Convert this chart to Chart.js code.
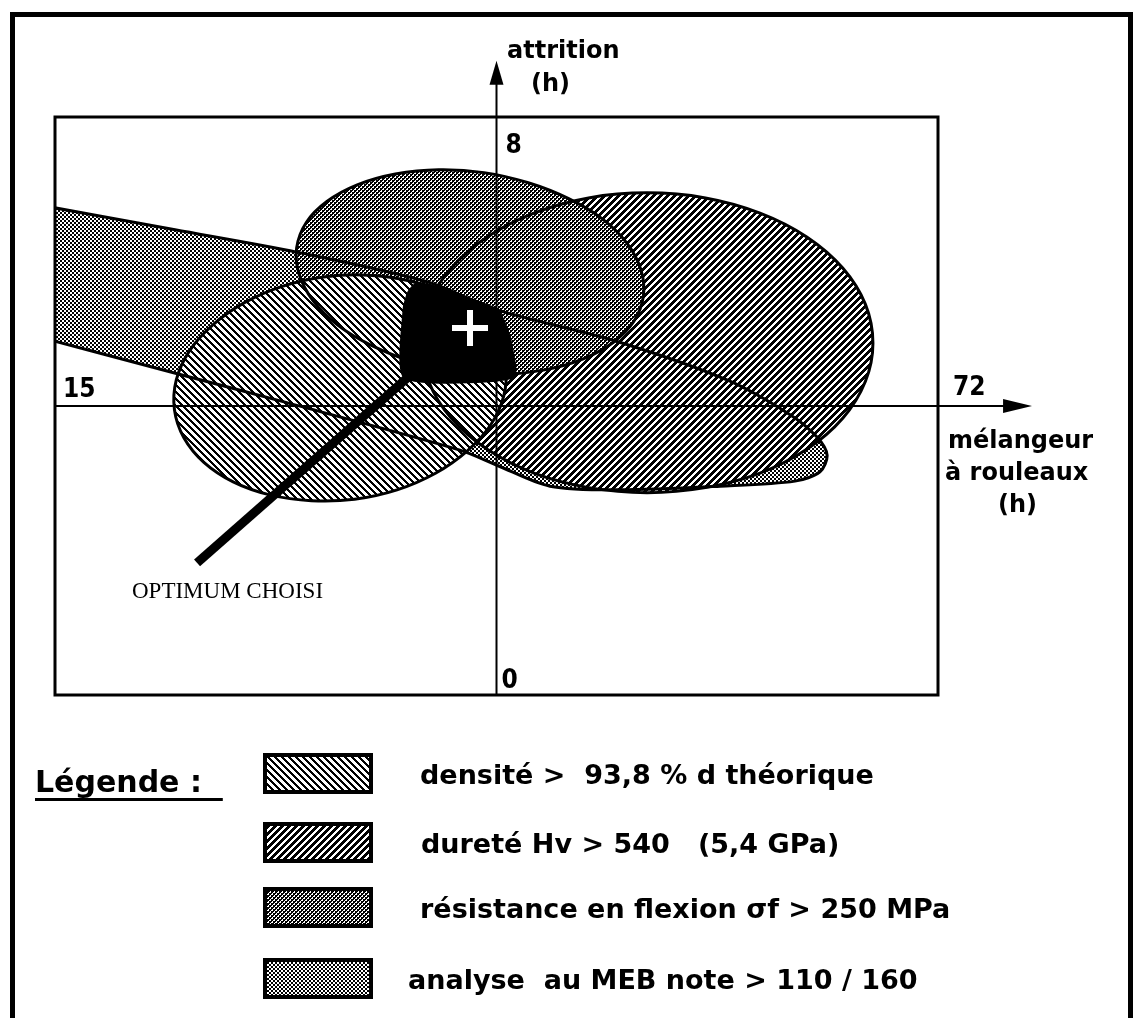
<!DOCTYPE html>
<html><head><meta charset="utf-8">
<script src="https://cdn.jsdelivr.net/npm/chart.js@4.4.0/dist/chart.umd.min.js"></script>
<style>
html,body{margin:0;padding:0;background:#fff;}
#wrap{position:relative;width:1137px;height:1018px;overflow:hidden;background:#fff;}
#c{position:absolute;left:0;top:0;}
#frame{position:absolute;left:10px;top:12px;width:1123px;height:1100px;border:5px solid #000;border-bottom:none;box-sizing:border-box;}
.t{position:absolute;font-family:"DejaVu Sans",sans-serif;font-weight:bold;color:#000;white-space:pre;}
.sw{position:absolute;}
</style></head><body>
<div id="wrap">
<div id="frame"></div>
<canvas id="c" width="1137" height="1018"></canvas>
</div>
<script>
// ---------- data (x: mélangeur à rouleaux, h ; y: attrition, h) ----------
const xRange = [15, 72];
const yRange = [0, 8];
const axisCross = [43.5, 4];
const axisEnds = [78.07, 8.78];
const xTickLabels = ['15', '72'];
const yTickLabels = ['0', '8'];
const xAxisTitle = ['mélangeur', 'à rouleaux', '(h)'];
const yAxisTitle = ['attrition', '(h)'];
const seriesNames = [
  'densité >  93,8 % d théorique',
  'dureté Hv > 540   (5,4 GPa)',
  'résistance en flexion σf > 250 MPa',
  'analyse  au MEB note > 110 / 160'
];
const legendTitle = 'Légende :  ';
const optimumLabel = 'OPTIMUM CHOISI';

// region outlines
const densiteX = [44.09, 43.97, 43.13, 41.62, 39.56, 37.08, 34.34, 31.55, 28.87, 26.50, 24.61, 23.32,
                  22.71, 22.83, 23.67, 25.17, 27.23, 29.72, 32.46, 35.25, 37.92, 40.29, 42.18, 43.47];
const densiteY = [4.55, 4.14, 3.74, 3.38, 3.07, 2.84, 2.71, 2.69, 2.77, 2.95, 3.22, 3.56,
                  3.95, 4.36, 4.76, 5.12, 5.43, 5.66, 5.79, 5.81, 5.73, 5.55, 5.28, 4.94];

const dureteX = [67.80, 67.31, 65.85, 63.53, 60.51, 56.99, 53.22, 49.44, 45.92, 42.90, 40.58, 39.12,
                 38.63, 39.12, 40.58, 42.90, 45.92, 49.44, 53.22, 56.99, 60.51, 63.53, 65.85, 67.31];
const dureteY = [4.87, 4.34, 3.83, 3.40, 3.07, 2.87, 2.80, 2.87, 3.07, 3.40, 3.83, 4.34,
                 4.87, 5.41, 5.91, 6.34, 6.67, 6.88, 6.95, 6.88, 6.67, 6.34, 5.91, 5.41];

const resistanceX = [52.98, 52.36, 51.03, 49.06, 46.60, 43.82, 40.89, 38.03, 35.42, 33.25, 31.65, 30.75,
                     30.60, 31.22, 32.55, 34.51, 36.97, 39.76, 42.69, 45.55, 48.16, 50.33, 51.93, 52.83];
const resistanceY = [5.52, 5.17, 4.88, 4.65, 4.50, 4.44, 4.49, 4.62, 4.84, 5.12, 5.46, 5.83,
                     6.19, 6.54, 6.83, 7.06, 7.21, 7.27, 7.23, 7.09, 6.87, 6.59, 6.25, 5.88];

// the MEB zone runs out of the left side of the frame
const mebX = [11, 13, 22.75, 30.62, 39.01, 43.53, 51.02, 58.38, 62.45, 64.19, 64.84, 64.38, 62.77, 57.93,
              51.47, 46.95, 43.53, 41.14, 29.72, 23.20, 13, 11];
const mebY = [6.90, 6.82, 6.44, 6.13, 5.72, 5.33, 4.91, 4.36, 3.88, 3.57, 3.32, 3.09, 2.96, 2.89,
              2.84, 2.89, 3.18, 3.39, 4.06, 4.43, 5.01, 5.13];

const optimumX = [37.59, 37.53, 37.85, 38.43, 40.82, 43.53, 44.05, 44.44, 44.57];
const optimumY = [4.40, 5.33, 5.58, 5.70, 5.55, 5.33, 5.12, 4.84, 4.40];

const optimumPoint = [41.79, 5.08];
const pointerX = [24.17, 38.11];
const pointerY = [1.83, 4.46];

// ---------- patterns (bitmap hatching like the printed figure) ----------
function hatch(dir, p, w) {
  const c = document.createElement('canvas'); c.width = p; c.height = p;
  const g = c.getContext('2d');
  const img = g.createImageData(p, p);
  for (let j = 0; j < p; j++) for (let i = 0; i < p; i++) {
    const k = dir === 'back' ? (((i - j) % p) + p) % p : (i + j) % p;
    const v = k < w ? 0 : 255;
    const o = (j * p + i) * 4;
    img.data[o] = img.data[o + 1] = img.data[o + 2] = v; img.data[o + 3] = 255;
  }
  g.putImageData(img, 0, 0);
  return g.createPattern(c, 'repeat');
}
function dots(dark) {
  const c = document.createElement('canvas'); c.width = 4; c.height = 4;
  const g = c.getContext('2d');
  g.fillStyle = '#fff'; g.fillRect(0, 0, 4, 4);
  g.fillStyle = '#000';
  g.fillRect(0, 0, 2, 2); g.fillRect(2, 2, 2, 2);
  if (dark) { g.fillRect(2, 0, 1, 1); g.fillRect(0, 2, 1, 1); }
  return g.createPattern(c, 'repeat');
}
const fills = [hatch('back', 7, 3), hatch('fwd', 7, 4), dots(true), dots(false)];

// ---------- datasets ----------
const pts = (xs, ys) => xs.map((x, i) => ({ x, y: ys[i] }));
function region(xs, ys, fill, tension) {
  return { data: pts(xs, ys), showLine: true, closedShape: true, fill: 'shape', backgroundColor: fill,
    borderColor: '#000', borderWidth: 3, pointRadius: 0, tension, borderJoinStyle: 'round' };
}

const datasets = [
  { data: [{ x: optimumPoint[0], y: optimumPoint[1] }], pointStyle: 'cross', pointRadius: 18, pointBorderWidth: 6,
    pointBorderColor: '#fff', pointBackgroundColor: '#fff', showLine: false },
  { data: pts(pointerX, pointerY), showLine: true, borderColor: '#000', borderWidth: 9, borderCapStyle: 'butt', pointRadius: 0, fill: false },
  { data: [{ x: xRange[0], y: axisCross[1] }, { x: axisEnds[0] - 1, y: axisCross[1] }], showLine: true, borderColor: '#000', borderWidth: 2, pointRadius: 0, fill: false, clip: false },
  { data: [{ x: axisCross[0], y: yRange[0] }, { x: axisCross[0], y: axisEnds[1] - 0.2 }], showLine: true, borderColor: '#000', borderWidth: 2, pointRadius: 0, fill: false, clip: false },
  region(optimumX, optimumY, '#000', 0.2),
  region(densiteX, densiteY, fills[0], 0.35),
  region(resistanceX, resistanceY, fills[2], 0.35),
  region(dureteX, dureteY, fills[1], 0.35),
  region(mebX, mebY, fills[3], 0.3)
];

const loopPlugin = {
  id: 'loopShapes',
  afterDatasetUpdate(chart, args) {
    const ds = chart.data.datasets[args.index];
    if (ds.closedShape && args.meta.dataset) { args.meta.dataset._loop = true; args.meta.dataset._fullLoop = true; }
  }
};
const framePlugin = {
  id: 'frameAndTicks',
  afterDatasetsDraw(chart) {
    const { ctx, chartArea: a, scales: { x, y } } = chart;
    ctx.save();
    ctx.strokeStyle = '#000'; ctx.lineWidth = 3;
    ctx.strokeRect(a.left, a.top, a.right - a.left, a.bottom - a.top);
    const cy = y.getPixelForValue(axisCross[1]);
    const cx = x.getPixelForValue(axisCross[0]);
    const tx = x.getPixelForValue(axisEnds[0]);
    const ty = y.getPixelForValue(axisEnds[1]);
    ctx.fillStyle = '#000';
    ctx.beginPath(); ctx.moveTo(tx, cy); ctx.lineTo(tx - 29, cy - 7); ctx.lineTo(tx - 29, cy + 7); ctx.closePath(); ctx.fill();
    ctx.beginPath(); ctx.moveTo(cx, ty); ctx.lineTo(cx - 7, ty + 24); ctx.lineTo(cx + 7, ty + 24); ctx.closePath(); ctx.fill();
    ctx.font = 'bold 26px "DejaVu Sans Condensed", "DejaVu Sans", sans-serif';
    ctx.textBaseline = 'alphabetic'; ctx.textAlign = 'left';
    ctx.fillText(xTickLabels[0], x.getPixelForValue(xRange[0]) + 8, cy - 9);
    ctx.fillText(xTickLabels[1], x.getPixelForValue(xRange[1]) + 15, cy - 11);
    ctx.fillText(yTickLabels[0], cx + 5, y.getPixelForValue(yRange[0]) - 7);
    ctx.fillText(yTickLabels[1], cx + 9, y.getPixelForValue(yRange[1]) + 36);
    ctx.restore();
  }
};

new Chart(document.getElementById('c'), {
  type: 'scatter',
  data: { datasets },
  options: {
    responsive: false, animation: false, devicePixelRatio: 1, events: [],
    layout: { padding: { left: 55, top: 117, right: 199, bottom: 323 } },
    scales: {
      x: { type: 'linear', min: xRange[0], max: xRange[1], display: false },
      y: { type: 'linear', min: yRange[0], max: yRange[1], display: false }
    },
    plugins: { legend: { display: false }, tooltip: { enabled: false }, filler: { drawTime: 'beforeDatasetsDraw', propagate: false } }
  },
  plugins: [loopPlugin, framePlugin]
});

// ---------- text & legend (HTML) ----------
const wrap = document.getElementById('wrap');
function txt(s, left, baseline, size, family, extra) {
  const d = document.createElement('div');
  d.className = 't';
  d.textContent = s;
  d.style.fontSize = size + 'px';
  d.style.lineHeight = size + 'px';
  if (family) { d.style.fontFamily = family; d.style.fontWeight = 'normal'; }
  d.style.left = left + 'px';
  d.style.top = (baseline - Math.round(size * 0.845)) + 'px';
  if (extra) Object.assign(d.style, extra);
  wrap.appendChild(d);
  return d;
}
txt(yAxisTitle[0], 507, 58, 24);
txt(yAxisTitle[1], 531, 91, 24);
txt(xAxisTitle[0], 948, 448, 24);
txt(xAxisTitle[1], 945, 480, 24);
txt(xAxisTitle[2], 998, 512, 24);
txt(optimumLabel, 132, 598, 23, '"Liberation Serif", serif');

txt(legendTitle, 35, 792, 30, null, { textDecoration: 'underline', textDecorationThickness: '3px', textUnderlineOffset: '6px' });

const swTops = [753, 822, 887, 958];
const textLeft = [420, 421, 420, 408];
swTops.forEach((top, i) => {
  const c = document.createElement('canvas');
  c.width = 110; c.height = 41; c.className = 'sw';
  c.style.left = '263px'; c.style.top = top + 'px';
  const g = c.getContext('2d');
  g.fillStyle = fills[i]; g.fillRect(0, 0, 110, 41);
  g.strokeStyle = '#000'; g.lineWidth = 4; g.strokeRect(2, 2, 106, 37);
  wrap.appendChild(c);
  txt(seriesNames[i], textLeft[i], top + 31, 27);
});
</script>
</body></html>
